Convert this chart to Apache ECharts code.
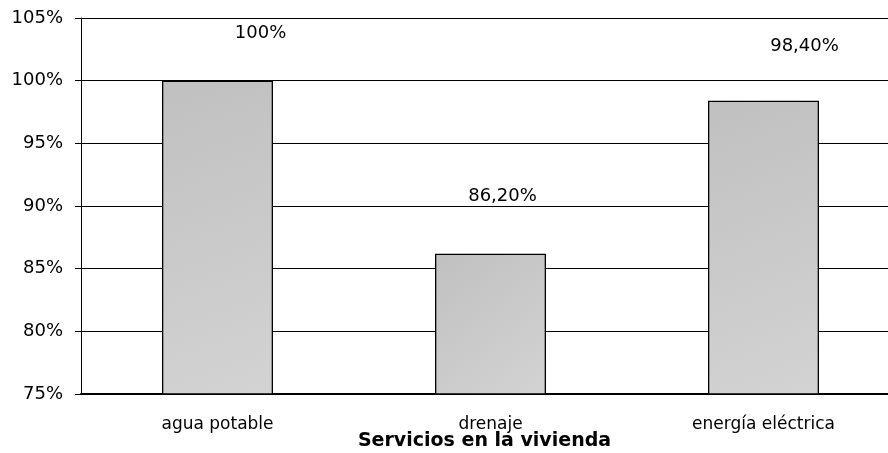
<!DOCTYPE html>
<html>
<head>
<meta charset="utf-8">
<script src="https://cdn.jsdelivr.net/npm/echarts@6/dist/echarts.min.js"></script>
<style>
  html, body { margin: 0; padding: 0; background: #fff; }
  #chart { width: 888px; height: 453px; }
</style>
</head>
<body>
<div id="chart"></div>
<script>
const categories = ['agua potable', 'drenaje', 'energía eléctrica'];
const values = [100, 86.2, 98.4];
const valueLabels = ['100%', '86,20%', '98,40%'];
// label offsets as placed in the original (x, y from bar top)
const labelOffsets = [[43, -33], [12, -43], [41, -40]];

const chart = echarts.init(document.getElementById('chart'));

const barFill = new echarts.graphic.LinearGradient(0, 0, 1, 1, [
  { offset: 0, color: '#c0c0c0' },
  { offset: 1, color: '#d3d3d3' }
]);

const font = 'DejaVu Sans';

chart.setOption({
  animation: false,
  grid: { left: 81, top: 18, width: 819, height: 376, outerBoundsMode: 'none', containLabel: false },
  xAxis: {
    type: 'category',
    data: categories,
    axisLine: { lineStyle: { color: '#000', width: 2 } },
    axisTick: { show: false },
    axisLabel: { color: '#000', fontSize: 17, fontFamily: font, margin: 22 },
    name: 'Servicios en la vivienda',
    nameLocation: 'middle',
    nameGap: 38,
    nameMoveOverlap: false,
    nameTextStyle: { color: '#000', fontSize: 19, fontWeight: 'bold', fontFamily: font, padding: [0, 12, 0, 0] }
  },
  yAxis: {
    type: 'value',
    min: 75,
    max: 105,
    interval: 5,
    axisLine: { show: true, lineStyle: { color: '#000' } },
    axisTick: { show: true, length: 6, lineStyle: { color: '#000' } },
    axisLabel: { color: '#000', fontSize: 18, fontFamily: font, margin: 18, formatter: '{value}%' },
    splitLine: { lineStyle: { color: '#000', width: 1 } }
  },
  series: [{
    type: 'bar',
    barWidth: 111,
    data: values.map((v, i) => ({
      value: v,
      label: {
        show: true,
        position: 'top',
        offset: labelOffsets[i],
        formatter: valueLabels[i],
        color: '#000',
        fontSize: 18,
        fontFamily: font
      }
    })),
    itemStyle: { color: barFill, borderColor: '#000', borderWidth: 1.3 }
  }]
});
</script>
</body>
</html>
